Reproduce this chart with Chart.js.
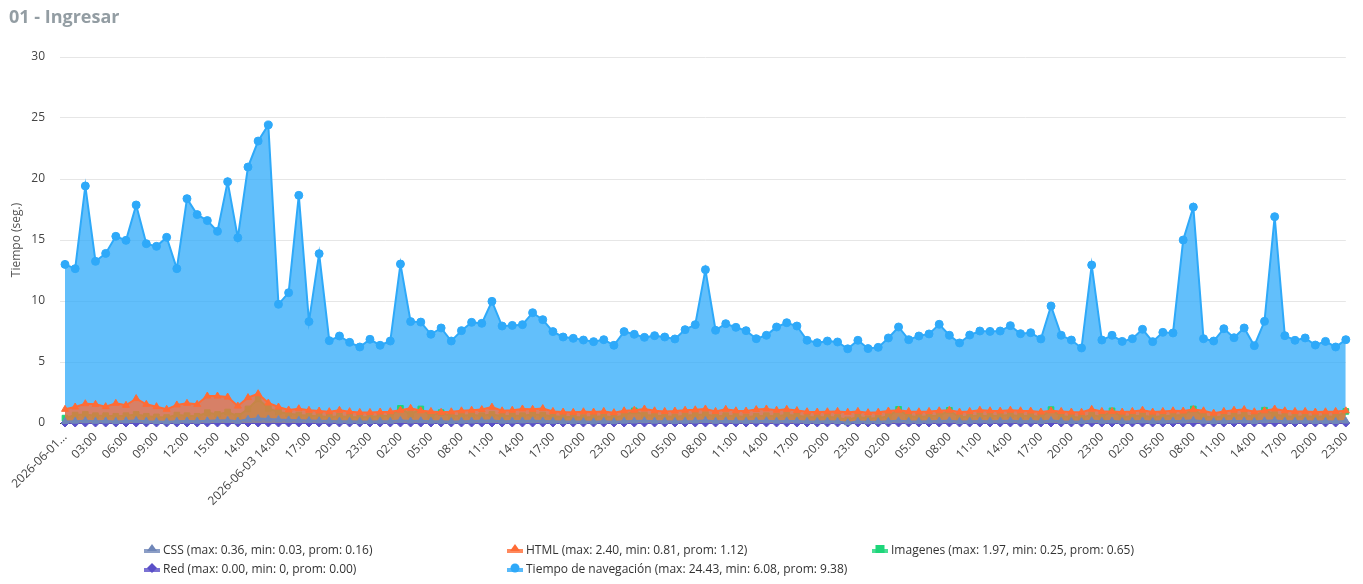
<!DOCTYPE html>
<html><head><meta charset="utf-8">
<script src="https://cdn.jsdelivr.net/npm/chart.js@4.4.1/dist/chart.umd.min.js"></script>
<style>
html,body{margin:0;padding:0;background:#fff;}
body{width:1363px;height:584px;position:relative;overflow:hidden;font-family:'Open Sans',sans-serif;}
#title{position:absolute;left:9px;top:3px;font-size:18px;font-weight:700;color:#939da3;line-height:26px;}
#wrap{position:absolute;left:0;top:0;width:1363px;height:584px;}
#legend{position:absolute;left:0;top:0;width:1363px;height:584px;font-size:12px;color:#333;pointer-events:none;}
.li{position:absolute;display:flex;align-items:center;white-space:nowrap;height:18px;}
.li svg{margin-right:2px;}
</style></head>
<body>
<div id="wrap"><canvas id="c"></canvas></div>
<div id="title">01 - Ingresar</div>
<div id="legend"></div>
<script>
const labels = [
"2026-06-01...","01:00","02:00","03:00","04:00","05:00","06:00","07:00","08:00","09:00","10:00","11:00","12:00","13:00","14:00","15:00",
"2026-06-02 12:00","13:00","14:00","15:00","16:00",
"2026-06-03 14:00","15:00","16:00","17:00","18:00","19:00","20:00","21:00","22:00","23:00",
"2026-06-04 00:00","01:00","02:00","03:00","04:00","05:00","06:00","07:00","08:00","09:00","10:00","11:00","12:00","13:00","14:00","15:00","16:00","17:00","18:00","19:00","20:00","21:00","22:00","23:00",
"2026-06-05 00:00","01:00","02:00","03:00","04:00","05:00","06:00","07:00","08:00","09:00","10:00","11:00","12:00","13:00","14:00","15:00","16:00","17:00","18:00","19:00","20:00","21:00","22:00","23:00",
"2026-06-06 00:00","01:00","02:00","03:00","04:00","05:00","06:00","07:00","08:00","09:00","10:00","11:00","12:00","13:00","14:00","15:00","16:00","17:00","18:00","19:00","20:00","21:00","22:00","23:00",
"2026-06-07 00:00","01:00","02:00","03:00","04:00","05:00","06:00","07:00","08:00","09:00","10:00","11:00","12:00","13:00","14:00","15:00","16:00","17:00","18:00","19:00","20:00","21:00","22:00","23:00"
];

const cssValues = [0.12,0.15,0.18,0.14,0.16,0.13,0.17,0.2,0.15,0.12,
0.1,0.14,0.16,0.15,0.18,0.2,0.22,0.15,0.3,0.36,
0.33,0.28,0.25,0.22,0.2,0.18,0.16,0.15,0.14,0.12,
0.13,0.15,0.14,0.2,0.16,0.18,0.15,0.14,0.12,0.15,
0.16,0.18,0.2,0.15,0.16,0.17,0.18,0.16,0.14,0.12,
0.13,0.12,0.1,0.14,0.11,0.15,0.16,0.18,0.15,0.14,
0.13,0.15,0.16,0.2,0.14,0.17,0.15,0.14,0.16,0.18,
0.15,0.17,0.16,0.13,0.12,0.14,0.12,0.03,0.13,0.1,
0.11,0.14,0.18,0.14,0.13,0.15,0.16,0.18,0.12,0.14,
0.16,0.15,0.16,0.18,0.15,0.16,0.13,0.2,0.14,0.13,
0.12,0.18,0.14,0.16,0.13,0.15,0.17,0.13,0.15,0.16,
0.17,0.22,0.15,0.12,0.14,0.16,0.17,0.13,0.18,0.2,
0.15,0.14,0.15,0.13,0.14,0.13,0.16];

const htmlValues = [1.12,1.31,1.58,1.53,1.34,1.61,1.45,2.0,1.53,1.34,
1.12,1.48,1.61,1.53,2.21,2.21,2.13,1.39,2.08,2.40,
1.64,1.31,1.07,1.17,1.04,0.98,0.93,1.04,0.93,0.87,
0.87,0.9,0.93,1.05,1.2,1.0,0.95,0.88,0.92,1.0,
1.05,1.1,1.3,1.0,1.05,1.15,1.12,1.18,0.95,0.9,
0.88,0.92,0.9,0.95,0.85,1.0,1.05,1.15,1.0,0.95,
0.98,1.05,1.08,1.15,0.95,1.12,1.0,0.98,1.1,1.15,
1.05,1.12,1.02,0.92,0.9,0.92,0.95,0.88,0.95,0.85,
0.88,0.98,1.05,0.95,0.92,0.95,1.0,1.05,0.9,0.95,
1.05,1.0,0.98,1.05,1.0,0.98,0.9,1.0,0.95,0.9,
0.88,1.12,0.95,0.95,0.9,0.95,1.05,0.9,0.95,1.0,
0.98,1.1,1.0,0.81,0.95,1.05,1.1,0.92,1.0,1.15,
1.0,0.95,0.95,0.9,0.92,0.95,1.0];

const imagenesValues = [0.4,0.65,0.7,0.6,0.6,0.55,0.6,0.7,0.55,0.5,
0.45,0.65,0.6,0.55,0.85,0.7,0.9,0.55,1.15,1.97,
1.2,0.9,0.75,0.65,0.6,0.55,0.5,0.55,0.5,0.45,
0.5,0.55,0.6,1.2,0.7,1.15,0.6,0.85,0.55,0.6,
0.65,0.6,0.7,0.55,0.6,0.6,0.7,0.65,0.55,0.5,
0.5,0.45,0.5,0.55,0.45,0.6,1.0,0.65,0.6,0.55,
0.5,0.6,0.65,0.7,0.55,0.6,0.55,0.5,0.55,0.6,
0.55,0.65,0.6,0.5,0.45,0.5,0.45,0.25,0.5,0.35,
0.4,0.55,1.12,0.55,0.5,0.55,0.6,1.04,0.45,0.55,
0.6,0.55,0.6,0.65,0.55,0.6,0.5,1.1,0.55,0.5,
0.45,0.65,0.5,1.0,0.5,0.55,0.6,0.5,0.55,0.6,
0.65,1.15,0.55,0.45,0.55,0.6,0.65,0.5,1.05,0.7,
0.55,0.5,0.55,0.5,0.55,0.5,0.95];

const redValues = [0,0,0,0,0,0,0,0,0,0,
0,0,0,0,0,0,0,0,0,0,
0,0,0,0,0,0,0,0,0,0,
0,0,0,0,0,0,0,0,0,0,
0,0,0,0,0,0,0,0,0,0,
0,0,0,0,0,0,0,0,0,0,
0,0,0,0,0,0,0,0,0,0,
0,0,0,0,0,0,0,0,0,0,
0,0,0,0,0,0,0,0,0,0,
0,0,0,0,0,0,0,0,0,0,
0,0,0,0,0,0,0,0,0,0,
0,0,0,0,0,0,0,0,0,0,
0,0,0,0,0,0,0];

const tiempoValues = [13.0,12.65,19.43,13.25,13.9,15.3,14.97,17.87,14.7,14.48,
15.22,12.65,18.39,17.08,16.59,15.71,19.78,15.19,20.98,23.11,
24.43,9.73,10.68,18.66,8.31,13.88,6.75,7.13,6.61,6.23,
6.86,6.37,6.72,13.03,8.31,8.27,7.27,7.79,6.72,7.57,
8.25,8.17,9.97,7.95,8.0,8.06,9.04,8.47,7.49,7.05,
6.94,6.80,6.67,6.83,6.37,7.49,7.27,7.02,7.16,7.05,
6.89,7.65,8.06,12.57,7.60,8.14,7.84,7.57,6.91,7.19,
7.87,8.22,7.95,6.78,6.58,6.72,6.64,6.08,6.78,6.10,
6.20,6.97,7.87,6.83,7.13,7.30,8.09,7.19,6.56,7.21,
7.54,7.51,7.54,7.98,7.32,7.40,6.89,9.59,7.19,6.80,
6.15,12.95,6.80,7.19,6.69,6.91,7.68,6.67,7.43,7.38,
15.0,17.70,6.91,6.72,7.73,6.99,7.79,6.34,8.33,16.91,
7.16,6.78,6.97,6.39,6.69,6.23,6.83];

const seriesNames = [
"CSS (max: 0.36, min: 0.03, prom: 0.16)",
"HTML (max: 2.40, min: 0.81, prom: 1.12)",
"Imagenes (max: 1.97, min: 0.25, prom: 0.65)",
"Red (max: 0.00, min: 0, prom: 0.00)",
"Tiempo de navegación (max: 24.43, min: 6.08, prom: 9.38)"
];
const seriesValues = [cssValues, htmlValues, imagenesValues, redValues, tiempoValues];
const seriesColors = ["#6f86b8", "#ff6b35", "#1dd67a", "#5a4fc8", "#2ea9f9"];
const seriesFills = ["rgba(111,134,184,0.75)", "rgba(255,107,53,0.75)", "rgba(29,214,122,0.75)", "rgba(90,79,200,0.75)", "rgba(46,169,249,0.75)"];
const seriesPoints = ["triangle", "triangle", "rect", "rectRot", "circle"];
const yTicks = [0, 5, 10, 15, 20, 25, 30];
const yTitle = "Tiempo (seg.)";

const datasets = seriesValues.map((vals, i) => ({
  label: seriesNames[i],
  data: vals,
  borderColor: seriesColors[i],
  backgroundColor: seriesFills[i],
  pointBackgroundColor: seriesColors[i],
  pointBorderColor: seriesColors[i],
  pointStyle: seriesPoints[i],
  pointRadius: 4,
  pointBorderWidth: 1,
  borderWidth: 2,
  fill: 'origin',
  tension: 0,
  clip: false
}));

new Chart(document.getElementById('c'), {
  type: 'line',
  data: { labels: labels, datasets: datasets },
  options: {
    responsive: true,
    maintainAspectRatio: false,
    animation: false,
    layout: { padding: { top: 57, right: 13, bottom: 61, left: 0 } },
    plugins: { legend: { display: false }, tooltip: { enabled: false } },
    scales: {
      x: {
        grid: { display: false, drawTicks: false },
        border: { display: false },
        ticks: {
          autoSkip: false, minRotation: 45, maxRotation: 45, padding: 7,
          color: '#444', font: { family: 'Open Sans', size: 12 },
          callback: (v, i) => (i % 3 === 0 ? labels[i] : null)
        },
        afterFit: (s) => { s.height = 100; }
      },
      y: {
        min: yTicks[0], max: yTicks[yTicks.length - 1],
        afterBuildTicks: (s) => { s.ticks = yTicks.map(v => ({ value: v })); },
        grid: {
          color: (ctx) => (ctx.tick && ctx.tick.value === 0 ? '#444' : '#e6e6e6'),
          tickLength: 5, drawTicks: true
        },
        border: { display: false },
        ticks: { padding: 15, color: '#444', font: { family: 'Open Sans', size: 12 } },
        title: { display: true, text: yTitle, color: '#555', font: { family: 'Open Sans', size: 12 }, padding: { top: 9, bottom: 0 } },
        afterFit: (s) => { s.width = 65; }
      }
    }
  }
});

function iconSvg(color, style) {
  let shape = '';
  if (style === 'triangle') shape = `<polygon points="9,1 14,8 4,8" fill="${color}"/>`;
  else if (style === 'circle') shape = `<circle cx="9" cy="6" r="4.5" fill="${color}"/>`;
  else if (style === 'rect') shape = `<rect x="4.5" y="2" width="9" height="8" fill="${color}"/>`;
  else if (style === 'rectRot') shape = `<polygon points="9,1 14,6 9,11 4,6" fill="${color}"/>`;
  return `<svg width="18" height="12" viewBox="0 0 18 12"><rect x="1" y="6" width="16" height="4" fill="${color}" opacity="0.8"/>${shape}</svg>`;
}
const legendCols = [143, 506, 871];
const legendRows = [549, 568];
const lg = document.getElementById('legend');
seriesNames.forEach((name, i) => {
  const d = document.createElement('div');
  d.className = 'li';
  d.style.left = legendCols[i % 3] + 'px';
  d.style.top = (legendRows[Math.floor(i / 3)] - 9) + 'px';
  d.innerHTML = iconSvg(seriesColors[i], seriesPoints[i]) + '<span></span>';
  d.querySelector('span').textContent = name;
  lg.appendChild(d);
});
</script>
</body></html>
